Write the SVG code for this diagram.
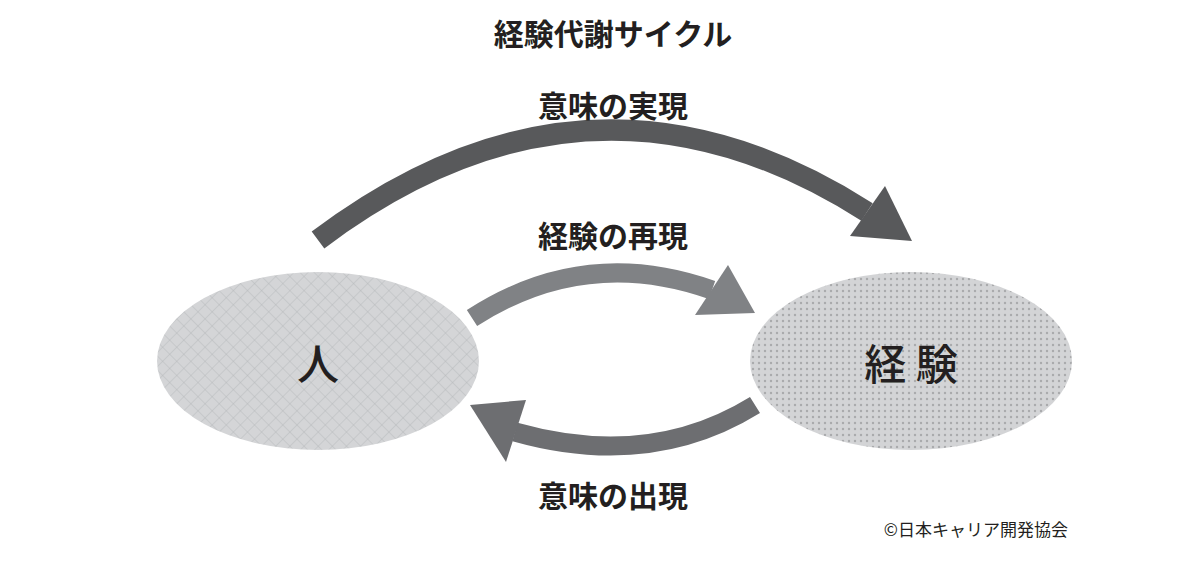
<svg xmlns="http://www.w3.org/2000/svg" width="1200" height="561" viewBox="0 0 1200 561">
<style>
text{font-family:"Noto Sans CJK JP","Noto Sans",sans-serif;fill:#231f20;text-anchor:middle;dominant-baseline:central}
.lbl{font-size:30px;font-weight:bold}
.node{font-size:42px;font-weight:500}
</style>
<defs>
<pattern id="grid" width="10" height="10" patternUnits="userSpaceOnUse" patternTransform="rotate(45)">
<rect width="10" height="10" fill="#d4d5d7"/>
<path d="M0 0H10M0 0V10" stroke="#b3b4b6" stroke-width="0.8"/>
</pattern>
<pattern id="dots" width="6" height="6" patternUnits="userSpaceOnUse">
<rect width="6" height="6" fill="#d3d4d6"/>
<circle cx="3" cy="3" r="1.2" fill="#a9aaac"/>
</pattern>
</defs>
<rect width="1200" height="561" fill="#fff"/>
<text x="613" y="32" class="lbl">経験代謝サイクル</text>
<g id="connectors">
<path d="M318,240 Q590,35 867,212" fill="none" stroke="#58595b" stroke-width="21"/>
<polygon points="850,236 912,241 885,186" fill="#58595b"/>
<path d="M472,318 Q585,245 712,290" fill="none" stroke="#808285" stroke-width="19"/>
<polygon points="695,315 755,313 728,265" fill="#808285"/>
<path d="M755,405 Q650,470 515,432" fill="none" stroke="#6d6e71" stroke-width="19"/>
<polygon points="470,405 526,400 506,462" fill="#6d6e71"/>
</g>
<text x="613" y="104" class="lbl">意味の実現</text>
<text x="613" y="234" class="lbl">経験の再現</text>
<text x="613" y="494" class="lbl">意味の出現</text>
<g id="node-hito">
<ellipse cx="318" cy="361" rx="161" ry="89" fill="url(#grid)"/>
<text x="318" y="361" class="node">人</text>
</g>
<g id="node-keiken">
<ellipse cx="911" cy="361" rx="161" ry="89" fill="url(#dots)"/>
<text x="911" y="361" class="node">経 験</text>
</g>
<text x="1068" y="528" style="font-size:17px;text-anchor:end">©日本キャリア開発協会</text>
</svg>
